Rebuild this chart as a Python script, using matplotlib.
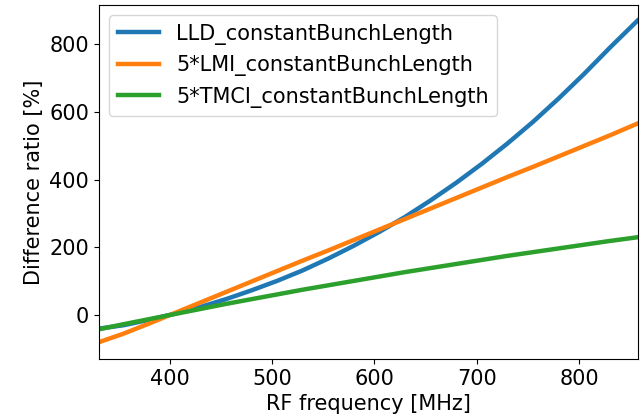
import matplotlib
matplotlib.use("Agg")
import matplotlib.pyplot as plt

# values (difference ratio in %, relative to 400 MHz)
freq = [331, 355, 380, 405, 430, 455, 480, 505, 530, 555, 580, 605,
        630, 655, 680, 705, 730, 755, 780, 805, 830, 857]
lld = [-40, -30, -14, 4, 24, 47, 73, 101, 132, 167, 205, 246,
       290, 339, 391, 447, 507, 571, 640, 713, 790, 870]
lmi = [-80, -55, -25, 6, 37, 68, 99, 130, 161, 191, 222, 253,
       284, 315, 346, 377, 408, 438, 469, 500, 531, 566]
tmci = [-42, -27, -12, 3, 18, 33, 47, 61, 75, 88, 101, 114,
        127, 139, 151, 163, 175, 186, 197, 208, 219, 230]

labels = ["LLD_constantBunchLength",
          "5*LMI_constantBunchLength",
          "5*TMCI_constantBunchLength"]

plt.rcParams["font.size"] = 15

fig = plt.figure(figsize=(6.42, 4.2), dpi=100)
ax = fig.add_axes([0.154, 0.145, 0.839, 0.843])

for y, lab in zip([lld, lmi, tmci], labels):
    ax.plot(freq, y, lw=3.2, label=lab)

ax.set_xlim(freq[0], freq[-1])
ax.set_ylim(-130, 916)
ax.set_xlabel("RF frequency [MHz]")
ax.set_ylabel("Difference ratio [%]")
ax.legend(loc="upper left")

fig.savefig("out.png", dpi=100)
